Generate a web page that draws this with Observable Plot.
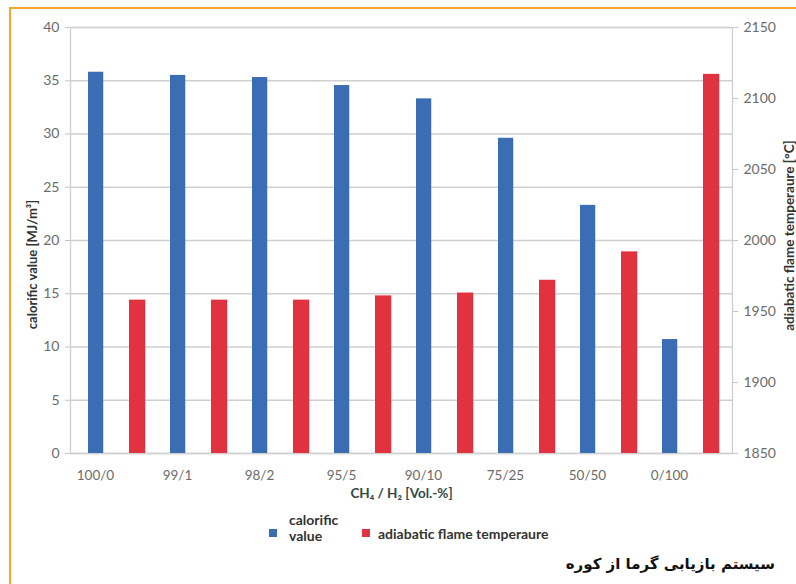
<!DOCTYPE html>
<html>
<head>
<meta charset="utf-8">
<script src="https://cdn.jsdelivr.net/npm/d3@7"></script>
<script src="https://cdn.jsdelivr.net/npm/@observablehq/plot@0.6"></script>
<style>
  html, body { margin: 0; padding: 0; background: #fff; }
  body { width: 796px; height: 584px; position: relative; overflow: hidden; font-family: Lato, "Open Sans", sans-serif; }
  #border { position: absolute; left: 9px; top: 7px; right: -5px; bottom: -5px; border-top: 2px solid #f5a623; border-left: 2px solid #f5a623; }
  #chart { position: absolute; left: 0; top: 0; }
  .leg { position: absolute; font-weight: bold; font-size: 14px; color: #333; line-height: 16px; }
  .sw { position: absolute; width: 8px; height: 8px; }
  #caption { position: absolute; right: 21px; top: 555px; font-family: "DejaVu Sans", sans-serif; font-weight: bold; font-size: 15px; direction: rtl; color: #111; }
</style>
</head>
<body>
<div id="border"></div>
<div id="chart"></div>
<div class="sw" style="left:269px;top:529px;background:#3b6db4"></div>
<div class="leg" style="left:289px;top:512px">calorific<br>value</div>
<div class="sw" style="left:362px;top:529px;background:#e1323f"></div>
<div class="leg" style="left:378px;top:526px">adiabatic flame temperaure</div>
<div id="caption">سیستم بازیابی گرما از کوره</div>
<script>
const categories = ["100/0", "99/1", "98/2", "95/5", "90/10", "75/25", "50/50", "0/100"];
const calorificValue = [35.8, 35.5, 35.3, 34.55, 33.3, 29.6, 23.3, 10.7];
const flameTemp = [1958, 1958, 1958, 1961, 1963, 1972, 1992, 2117];
const leftTicks = [0, 5, 10, 15, 20, 25, 30, 35, 40];
const rightTicks = [1850, 1900, 1950, 2000, 2050, 2100, 2150];
const tempMin = 1850, tempMax = 2150, leftMax = 40;

const toLeft = t => (t - tempMin) / (tempMax - tempMin) * leftMax;
const toTemp = v => tempMin + v / leftMax * (tempMax - tempMin);
const rows = categories.map((c, i) => ({cat: c, cal: calorificValue[i], temp: flameTemp[i], tempY: toLeft(flameTemp[i])}));

const chart = Plot.plot({
  width: 796,
  height: 510,
  marginLeft: 70,
  marginRight: 64,
  marginTop: 27,
  marginBottom: 57,
  style: {fontFamily: "Lato, 'Open Sans', sans-serif", background: "transparent"},
  x: {type: "band", domain: categories, padding: 0},
  y: {domain: [0, leftMax]},
  marks: [
    Plot.ruleY(leftTicks, {stroke: "#cfcfcf", strokeWidth: 1.3}),
    Plot.frame({stroke: "#cfcfcf", strokeWidth: 1.3}),
    Plot.barY(rows, {x: "cat", y: "cal", fill: "#3b6db4", insetLeft: 15, insetRight: 51.75}),
    Plot.barY(rows, {x: "cat", y: "tempY", fill: "#e1323f", insetLeft: 56, insetRight: 9.75}),
    Plot.axisY({anchor: "left", ticks: leftTicks, tickSize: 5, tickPadding: 6, fontSize: 14, color: "#6b6b6b", stroke: "#c4c4c4", label: null}),
    Plot.axisY({anchor: "right", ticks: rightTicks.map(toLeft), tickSize: 5, tickPadding: 6, fontSize: 14, color: "#6b6b6b", stroke: "#c4c4c4", label: null,
      tickFormat: d => String(Math.round(toTemp(d)))}),
    Plot.axisX({anchor: "bottom", tickSize: 0, tickPadding: 17, dx: -19, fontSize: 13.5, color: "#6b6b6b", label: null}),
    Plot.text(["calorific value [MJ/m³]"], {frameAnchor: "left", textAnchor: "middle", rotate: -90, dx: -38, dy: 24, fontSize: 13, fontWeight: "bold", fill: "#333"}),
    Plot.text(["adiabatic flame temperaure [°C]"], {frameAnchor: "right", textAnchor: "middle", rotate: -90, dx: 57, dy: -5, fontSize: 13.5, fontWeight: "bold", fill: "#333"}),
    Plot.text(["CH₄ / H₂ [Vol.-%]"], {frameAnchor: "bottom", dy: 44, fontSize: 13.5, fontWeight: "bold", fill: "#2f4a48"})
  ]
});
document.getElementById("chart").append(chart);
</script>
</body>
</html>
